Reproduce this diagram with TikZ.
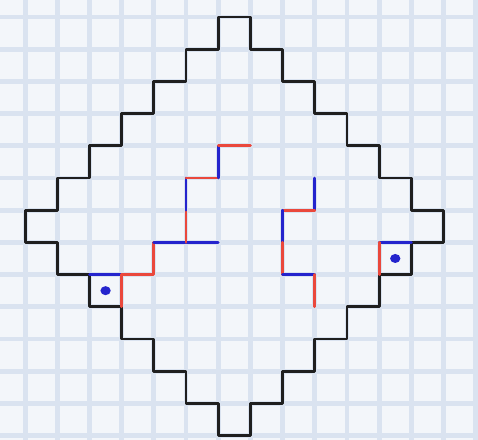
\documentclass[tikz,border=0pt]{standalone}
\usepackage{tikz}
\definecolor{paper}{RGB}{243,246,250}
\definecolor{gridblue}{RGB}{218,227,240}
\definecolor{penred}{RGB}{234,72,60}
\definecolor{penblue}{RGB}{36,36,205}
\begin{document}
\begin{tikzpicture}[x=8mm,y=-8mm,
  gridline/.style={draw=gridblue,line width=3.4pt},
  pen/.style={line width=2pt,line cap=round,line join=round},
  bk/.style={pen,draw=black!88},
  rd/.style={pen,draw=penred},
  bl/.style={pen,draw=penblue},
  dot/.style={fill=penblue}]
\fill[paper] (-0.78,-0.53) rectangle (14.07,13.13);
\useasboundingbox (-0.78,-0.53) rectangle (14.07,13.13);
\clip (-0.78,-0.53) rectangle (14.07,13.13);
\foreach \i in {0,...,14} \draw[gridline] (\i,-0.6) -- (\i,13.2);
\foreach \j in {0,...,13} \draw[gridline] (-0.8,\j) -- (14.1,\j);
\draw[bk] (3,9) -- (2,9) -- (2,8) -- (1,8) -- (1,7) -- (0,7) -- (0,6) -- (1,6)
  -- (1,5) -- (2,5) -- (2,4) -- (3,4) -- (3,3) -- (4,3) -- (4,2) -- (5,2)
  -- (5,1) -- (6,1) -- (6,0) -- (7,0) -- (7,1) -- (8,1) -- (8,2) -- (9,2)
  -- (9,3) -- (10,3) -- (10,4) -- (11,4) -- (11,5) -- (12,5) -- (12,6)
  -- (13,6) -- (13,7) -- (12,7) -- (12,8) -- (11,8) -- (11,9) -- (10,9)
  -- (10,10) -- (9,10) -- (9,11) -- (8,11) -- (8,12) -- (7,12) -- (7,13)
  -- (6,13) -- (6,12) -- (5,12) -- (5,11) -- (4,11) -- (4,10) -- (3,10) -- cycle;
\draw[bl] (2,8) -- (3,8);
\draw[bl] (11,7) -- (12,7);
\draw[rd] (3,9) -- (3,8) -- (4,8) -- (4,7);
\draw[rd] (11,7) -- (11,8);
\draw[bl] (4,7) -- (6,7);
\draw[rd] (5,7) -- (5,6);
\draw[bl] (5,6) -- (5,5);
\draw[rd] (5,5) -- (6,5);
\draw[bl] (6,5) -- (6,4);
\draw[rd] (6,4) -- (7,4);
\draw[bl] (9,5) -- (9,6);
\draw[rd] (9,6) -- (8,6);
\draw[bl] (8,6) -- (8,7);
\draw[rd] (8,7) -- (8,8);
\draw[bl] (8,8) -- (9,8);
\draw[rd] (9,8) -- (9,9);
\fill[dot] (2.5,8.5) ellipse [x radius=0.16,y radius=0.14];
\fill[dot] (11.5,7.5) ellipse [x radius=0.16,y radius=0.14];
\end{tikzpicture}
\end{document}
